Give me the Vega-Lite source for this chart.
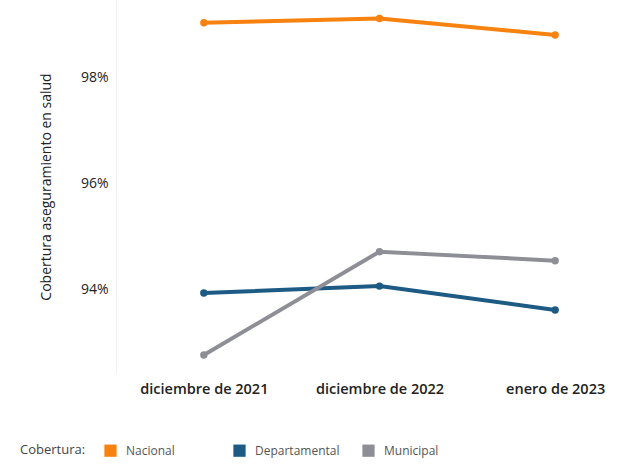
{
  "$schema": "https://vega.github.io/schema/vega-lite/v6.json",
  "width": 527,
  "height": 373,
  "autosize": "none",
  "padding": {"left": 116, "top": 0, "right": 0, "bottom": 93},
  "background": "white",
  "config": {"view": {"stroke": null}, "font": "Open Sans"},
  "data": {
    "values": [
      {"periodo": "diciembre de 2021", "cobertura": "Nacional", "valor": 0.9904},
      {"periodo": "diciembre de 2022", "cobertura": "Nacional", "valor": 0.9912},
      {"periodo": "enero de 2023", "cobertura": "Nacional", "valor": 0.9881},
      {"periodo": "diciembre de 2021", "cobertura": "Departamental", "valor": 0.9394},
      {"periodo": "diciembre de 2022", "cobertura": "Departamental", "valor": 0.9407},
      {"periodo": "enero de 2023", "cobertura": "Departamental", "valor": 0.9362},
      {"periodo": "diciembre de 2021", "cobertura": "Municipal", "valor": 0.9277},
      {"periodo": "diciembre de 2022", "cobertura": "Municipal", "valor": 0.9472},
      {"periodo": "enero de 2023", "cobertura": "Municipal", "valor": 0.9455}
    ]
  },
  "encoding": {
    "x": {
      "field": "periodo", "type": "ordinal",
      "sort": ["diciembre de 2021", "diciembre de 2022", "enero de 2023"],
      "scale": {"type": "point", "padding": 0.5},
      "axis": {"title": null, "labelAngle": 0, "domain": false, "ticks": false, "labelFontWeight": 600, "labelFontSize": 14.5, "labelColor": "#222222", "labelPadding": 9}
    },
    "y": {
      "field": "valor", "type": "quantitative",
      "scale": {"domain": [0.9243, 0.9947], "nice": false, "zero": false},
      "axis": {"format": ".0%", "values": [0.94, 0.96, 0.98], "grid": false, "ticks": false, "domain": true, "domainColor": "#f0f0f0", "labelFontSize": 14, "labelFontWeight": 500, "labelColor": "#222222", "labelPadding": 8, "title": "Cobertura aseguramiento en salud", "titleFontSize": 14, "titleFontWeight": "normal", "titleColor": "#222222", "titlePadding": 27}
    },
    "color": {
      "field": "cobertura", "type": "nominal",
      "sort": ["Nacional", "Departamental", "Municipal"],
      "scale": {"domain": ["Nacional", "Departamental", "Municipal"], "range": ["#f7820f", "#1d5a84", "#8e8f96"]},
      "legend": {"title": "Cobertura:", "orient": "none", "legendX": -96, "legendY": 444, "direction": "horizontal", "titleOrient": "left", "titleFontSize": 13, "titleFontWeight": "normal", "titleColor": "#444444", "titlePadding": 18, "labelFontSize": 12, "labelColor": "#555555", "symbolType": "square", "symbolSize": 150, "symbolStrokeWidth": 0, "symbolOpacity": 1, "columnPadding": 22, "gridAlign": "all", "labelOffset": 9}
    }
  },
  "layer": [
    {"mark": {"type": "line", "strokeWidth": 4}},
    {"mark": {"type": "point", "filled": true, "size": 55, "opacity": 1}}
  ]
}
